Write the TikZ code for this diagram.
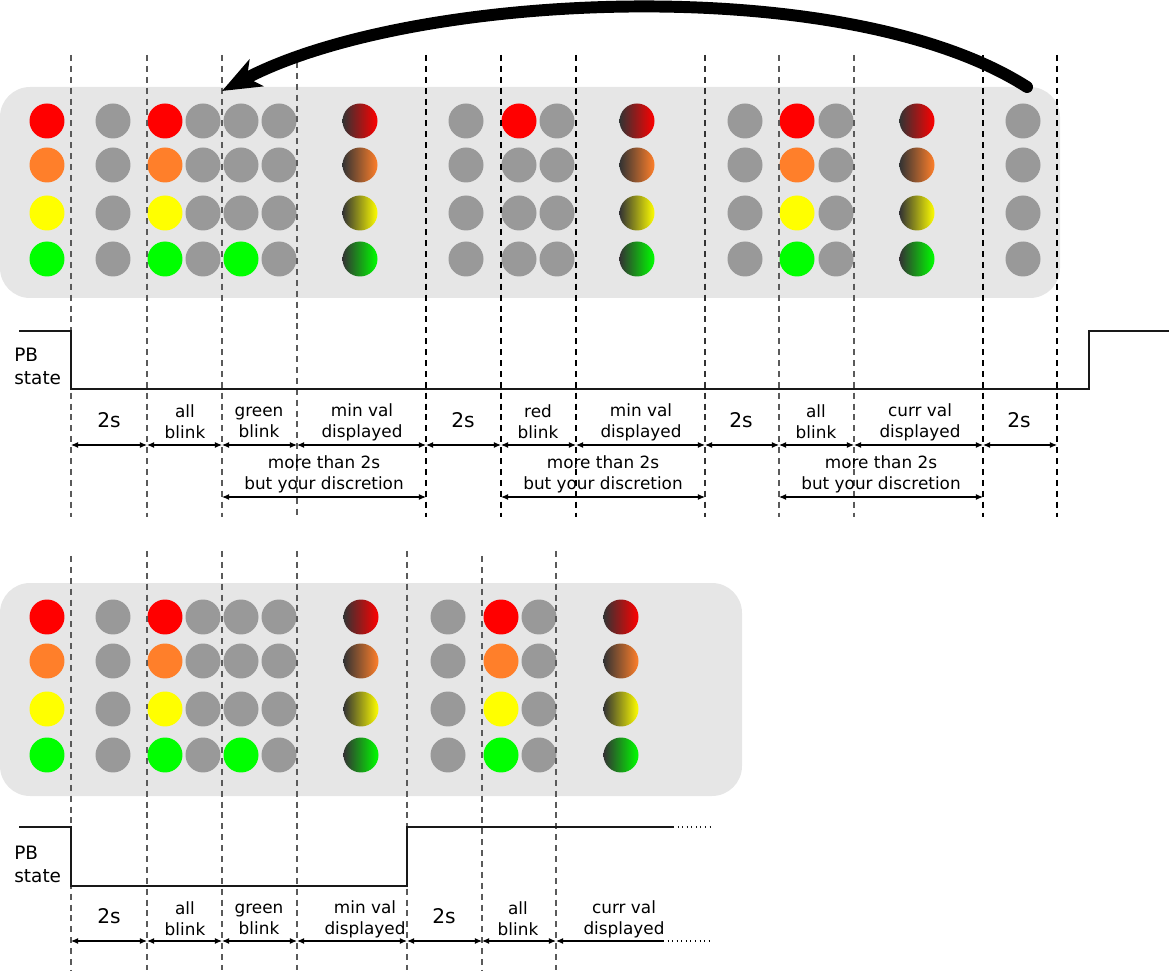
\documentclass[tikz,border=0pt]{standalone}
\usepackage{fontspec}
\setmainfont{DejaVu Sans}
\usetikzlibrary{calc, positioning, arrows.meta}

\definecolor{panelgray}{HTML}{E6E6E6}
\definecolor{ledoff}{HTML}{999999}
\definecolor{ledred}{HTML}{FF0000}
\definecolor{ledorange}{HTML}{FF7F2A}
\definecolor{ledyellow}{HTML}{FFFF00}
\definecolor{ledgreen}{HTML}{00FF00}
\definecolor{ledshade}{HTML}{333333}
\definecolor{markgray}{HTML}{5A5A5A}

\tikzset{
    lamp/.style={circle, minimum size=0.7cm, inner sep=0pt},
    unlit/.style={lamp, fill=ledoff},
    litred/.style={lamp, fill=ledred},
    litorange/.style={lamp, fill=ledorange},
    lityellow/.style={lamp, fill=ledyellow},
    litgreen/.style={lamp, fill=ledgreen},
    fadered/.style={lamp, left color=ledshade, right color=ledred},
    fadeorange/.style={lamp, left color=ledshade, right color=ledorange},
    fadeyellow/.style={lamp, left color=ledshade, right color=ledyellow},
    fadegreen/.style={lamp, left color=ledshade, right color=ledgreen},
    marker/.style={dash pattern=on 3.4pt off 2.8pt, line width=0.7pt},
    dim/.style={line width=0.6pt, {Latex[length=4pt,width=3.4pt]}-{Latex[length=4pt,width=3.4pt]}},
    pbline/.style={line width=1.1pt, black!90},
    lbl/.style={align=center, font=\fontsize{9.6}{12}\selectfont, inner sep=0pt},
    dur/.style={font=\fontsize{11.5}{14}\selectfont, inner sep=0pt},
    pblabel/.style={align=left, anchor=west, font=\fontsize{10.5}{13}\selectfont, inner sep=0pt},
    backarrow/.style={line width=6.8pt, line cap=round, -{Stealth[length=22pt,width=17pt,inset=6pt]}}
}

\begin{document}
\begin{tikzpicture}[x=0.02cm, y=-0.02cm]
    \useasboundingbox (0,0) rectangle (1169,972);

    % upper sequence
    \fill[panelgray, rounded corners=0.6cm] (0,87) rectangle (1060,298);
    \foreach \x/\a/\b/\c/\d [count=\i] in {47/litred/litorange/lityellow/litgreen,
        113/unlit/unlit/unlit/unlit, 165/litred/litorange/lityellow/litgreen,
        203/unlit/unlit/unlit/unlit, 241/unlit/unlit/unlit/litgreen,
        279/unlit/unlit/unlit/unlit, 360/fadered/fadeorange/fadeyellow/fadegreen,
        466/unlit/unlit/unlit/unlit, 519/litred/unlit/unlit/unlit,
        557/unlit/unlit/unlit/unlit, 637/fadered/fadeorange/fadeyellow/fadegreen,
        745/unlit/unlit/unlit/unlit, 797/litred/litorange/lityellow/litgreen,
        836/unlit/unlit/unlit/unlit, 917/fadered/fadeorange/fadeyellow/fadegreen,
        1023/unlit/unlit/unlit/unlit} {
        \node[\a] (top-\i-r) at (\x,121) {};
        \node[\b] (top-\i-o) at (\x,165) {};
        \node[\c] (top-\i-y) at (\x,213) {};
        \node[\d] (top-\i-g) at (\x,259) {};
    }

    \foreach \x/\s/\col [count=\i] in {71/55/markgray, 147/55/markgray, 222/55/markgray,
        297/62/markgray, 426/55/black, 501/55/black, 576/55/black, 705/55/black!80,
        779/55/markgray, 854/55/markgray, 983/55/black, 1057/55/black} {
        \coordinate (up\i) at (\x,\s);
        \coordinate (lo\i) at (\x,517);
        \coordinate (dimA\i) at (\x,445);
        \coordinate (dimB\i) at (\x,497);
        \draw[marker, \col] (up\i) -- (lo\i);
    }

    \draw[pbline] (19,331) -- (71,331) -- (71,389) -- (1089,389) -- (1089,331) -- (1169,331);
    \node[pblabel] (pbtop) at (14,366) {PB\\state};

    \foreach \a/\b in {1/2, 2/3, 3/4, 4/5, 5/6, 6/7, 7/8, 8/9, 9/10, 10/11, 11/12}
        \draw[dim] (dimA\a) -- (dimA\b);
    \foreach \a/\b in {3/5, 6/8, 9/11}
        \draw[dim] (dimB\a) -- (dimB\b);

    \node[dur] (t2sa) at (109,420) {2s};
    \node[lbl] (tallblinka) at (185,422) {all\\blink};
    \node[lbl] (tgreenblink) at (259,422) {green\\blink};
    \node[lbl] (tminvala) at (362,422) {min val\\displayed};
    \node[dur] (t2sb) at (463,420) {2s};
    \node[lbl] (tredblink) at (538,422) {red\\blink};
    \node[lbl] (tminvalb) at (641,422) {min val\\displayed};
    \node[dur] (t2sc) at (741,420) {2s};
    \node[lbl] (tallblinkb) at (816,422) {all\\blink};
    \node[lbl] (tcurrval) at (920,422) {curr val\\displayed};
    \node[dur] (t2sd) at (1019,420) {2s};
    \node[lbl] (tmorea) at (324,474) {more than 2s\\but your discretion};
    \node[lbl] (tmoreb) at (603,474) {more than 2s\\but your discretion};
    \node[lbl] (tmorec) at (881,474) {more than 2s\\but your discretion};

    % back to start
    \coordinate (loopstart) at (1027,87);
    \coordinate (loopend) at (222,91);
    \draw[backarrow] (loopstart) .. controls (846,-29) and (412,-9) .. (loopend);

    % lower sequence
    \fill[panelgray, rounded corners=0.6cm] (0,583) rectangle (742,796);
    \foreach \x/\a/\b/\c/\d [count=\i] in {47/litred/litorange/lityellow/litgreen,
        113/unlit/unlit/unlit/unlit, 165/litred/litorange/lityellow/litgreen,
        203/unlit/unlit/unlit/unlit, 241/unlit/unlit/unlit/litgreen,
        279/unlit/unlit/unlit/unlit, 361/fadered/fadeorange/fadeyellow/fadegreen,
        448/unlit/unlit/unlit/unlit, 501/litred/litorange/lityellow/litgreen,
        539/unlit/unlit/unlit/unlit, 621/fadered/fadeorange/fadeyellow/fadegreen} {
        \node[\a] (bot-\i-r) at (\x,617) {};
        \node[\b] (bot-\i-o) at (\x,661) {};
        \node[\c] (bot-\i-y) at (\x,709) {};
        \node[\d] (bot-\i-g) at (\x,755) {};
    }

    \foreach \x/\s [count=\i] in {71/556, 147/551, 222/551, 297/551, 407/551, 482/556, 556/551} {
        \coordinate (bup\i) at (\x,\s);
        \coordinate (blo\i) at (\x,970);
        \coordinate (bdim\i) at (\x,941);
        \draw[marker, markgray] (bup\i) -- (blo\i);
    }

    \draw[pbline] (19,827) -- (71,827) -- (71,886) -- (407,886) -- (407,827) -- (673,827);
    \draw[pbline, line width=0.6pt, dotted] (673,827) -- (712,827);
    \node[pblabel] (pbbot) at (14,864) {PB\\state};

    \foreach \a/\b in {1/2, 2/3, 3/4, 4/5, 5/6, 6/7}
        \draw[dim] (bdim\a) -- (bdim\b);
    \coordinate (bdimend) at (663,941);
    \coordinate (bdimdots) at (712,941);
    \draw[line width=0.6pt, {Latex[length=4pt,width=3.4pt]}-] (bdim7) -- (bdimend);
    \draw[line width=0.6pt, dotted] (bdimend) -- (bdimdots);

    \node[dur] (b2sa) at (109,916) {2s};
    \node[lbl] (ballblinka) at (185,919) {all\\blink};
    \node[lbl] (bgreenblink) at (259,919) {green\\blink};
    \node[lbl] (bminval) at (365,919) {min val\\displayed};
    \node[dur] (b2sb) at (444,916) {2s};
    \node[lbl] (ballblinkb) at (518,919) {all\\blink};
    \node[lbl] (bcurrval) at (624,919) {curr val\\displayed};
\end{tikzpicture}
\end{document}
